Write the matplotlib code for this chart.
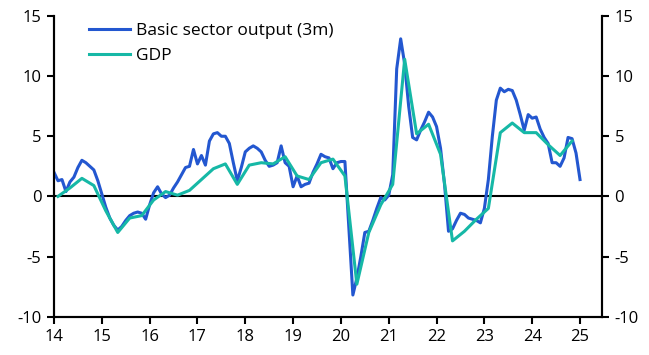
import numpy as np
import matplotlib.pyplot as plt

# basic sector output, 3m/3m annualised, monthly Jan 2014 - Jan 2025
basic = [
    2.0, 1.3, 1.4, 0.4, 1.2, 1.6, 2.4, 3.0, 2.8, 2.5, 2.2, 1.3,        # 2014
    0.2, -0.9, -1.8, -2.4, -2.8, -2.5, -2.0, -1.6, -1.4, -1.3, -1.4, -1.9,  # 2015
    -0.7, 0.3, 0.8, 0.2, -0.1, 0.1, 0.7, 1.2, 1.8, 2.4, 2.5, 3.9,      # 2016
    2.7, 3.4, 2.6, 4.6, 5.2, 5.3, 5.0, 5.0, 4.4, 2.8, 1.3, 2.4,        # 2017
    3.7, 4.0, 4.2, 4.0, 3.7, 3.0, 2.5, 2.6, 2.8, 4.2, 2.8, 2.5,        # 2018
    0.8, 1.7, 0.8, 1.0, 1.1, 2.0, 2.7, 3.5, 3.3, 3.2, 2.3, 2.8,        # 2019
    2.9, 2.9, -2.6, -8.2, -6.8, -5.0, -3.0, -2.9, -2.0, -1.0, -0.1, -0.3,  # 2020
    0.1, 1.8, 10.6, 13.1, 11.0, 7.5, 4.9, 4.7, 5.5, 6.2, 7.0, 6.6,     # 2021
    5.8, 4.0, 1.0, -2.9, -2.7, -2.0, -1.4, -1.5, -1.8, -1.9, -2.0, -2.2,  # 2022
    -1.0, 1.4, 5.0, 8.0, 9.0, 8.7, 8.9, 8.8, 8.0, 6.8, 5.5, 6.8,       # 2023
    6.5, 6.6, 5.6, 4.9, 4.4, 2.8, 2.8, 2.5, 3.2, 4.9, 4.8, 3.6,        # 2024
    1.4,                                                               # 2025
]

# GDP, quarterly Q1 2014 - Q4 2024
gdp = [
    0.0, 0.7, 1.5, 0.9,
    -1.2, -3.0, -1.8, -1.6,
    -0.3, 0.4, 0.1, 0.5,
    1.4, 2.3, 2.7, 1.0,
    2.6, 2.8, 2.7, 3.3,
    1.7, 1.4, 2.8, 3.1,
    1.7, -7.3, -3.0, -0.7,
    1.0, 11.4, 5.2, 6.0,
    3.5, -3.7, -2.9, -1.9,
    -1.0, 5.3, 6.1, 5.3,
    5.3, 4.3, 3.4, 4.6,
]

year_ticks = list(range(14, 26))
y_ticks = [-10, -5, 0, 5, 10, 15]

x_basic = 14 + np.arange(len(basic)) / 12
x_gdp = 14 + (3 * np.arange(len(gdp)) + 1) / 12

plt.rcParams['font.family'] = ['Open Sans', 'DejaVu Sans']
plt.rcParams['axes.unicode_minus'] = False

fig = plt.figure(figsize=(6.49, 3.55), dpi=100)
ax = fig.add_axes([0.0832, 0.108, 0.8444, 0.847])

ax.plot(x_basic, basic, color='#2357d0', lw=2.2, label='Basic sector output (3m)', zorder=3)
ax.plot(x_gdp, gdp, color='#16b8a6', lw=2.2, label='GDP', zorder=4)
ax.axhline(0, color='black', lw=1.5, zorder=2)

ax.set_xlim(14, 25.46)
ax.set_ylim(-10, 15)
ax.set_xticks(year_ticks)
ax.set_xticklabels([str(y) for y in year_ticks])
ax.set_yticks(y_ticks)

ax2 = ax.twinx()
ax2.set_ylim(-10, 15)
ax2.set_yticks(y_ticks)

for a in (ax, ax2):
    a.spines['top'].set_visible(False)
    for s in ('left', 'right', 'bottom'):
        a.spines[s].set_linewidth(1.5)
    a.tick_params(direction='out', length=5, width=1.5, labelsize=12, pad=4)

ax.legend(loc='upper left', bbox_to_anchor=(0.035, 1.028), frameon=False,
          fontsize=12.5, handlelength=2.4, handletextpad=0.3, labelspacing=0.5)

fig.savefig('out.png', dpi=100)
